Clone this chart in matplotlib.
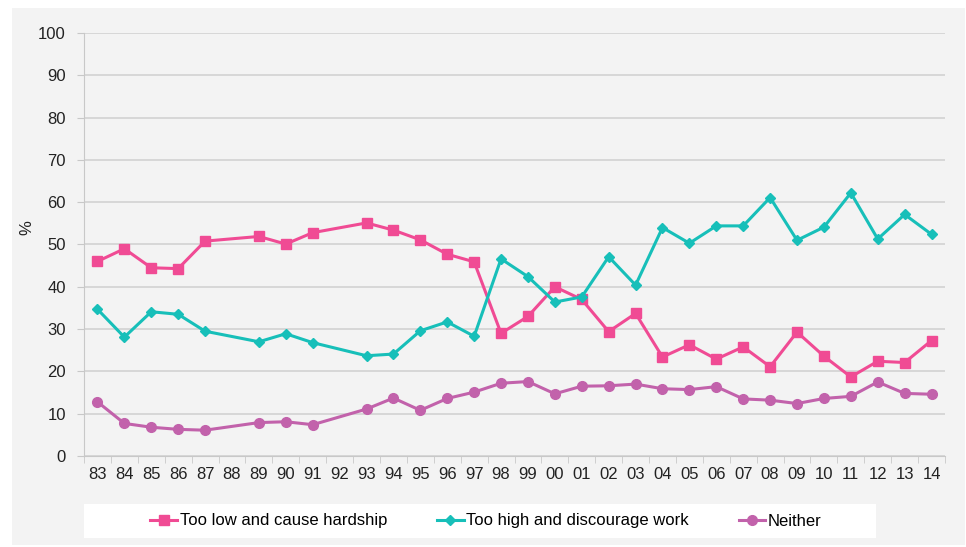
import numpy as np
import matplotlib.pyplot as plt
from matplotlib.patches import Rectangle

plt.rcParams['font.family'] = ['Liberation Sans', 'DejaVu Sans']

years = ['83', '84', '85', '86', '87', '88', '89', '90', '91', '92', '93', '94', '95', '96', '97',
         '98', '99', '00', '01', '02', '03', '04', '05', '06', '07', '08', '09', '10', '11', '12',
         '13', '14']

too_low = [46.0, 49.0, 44.5, 44.3, 50.8, None, 51.9, 50.1, 52.8, None, 55.1, 53.4, 51.1, 47.7, 45.9,
           29.0, 33.0, 40.0, 37.0, 29.4, 33.7, 23.4, 26.3, 22.9, 25.8, 21.1, 29.3, 23.6, 18.7, 22.4,
           22.1, 27.3]
too_high = [34.7, 28.1, 34.1, 33.5, 29.5, None, 27.0, 28.9, 26.8, None, 23.7, 24.1, 29.6, 31.7, 28.3,
            46.6, 42.4, 36.4, 37.6, 47.1, 40.4, 54.0, 50.3, 54.4, 54.4, 61.1, 51.0, 54.1, 62.2, 51.3,
            57.1, 52.4]
neither = [12.8, 7.7, 6.8, 6.3, 6.1, None, 7.9, 8.1, 7.4, None, 11.1, 13.7, 10.8, 13.6, 15.1,
           17.2, 17.6, 14.7, 16.5, 16.6, 17.0, 15.9, 15.7, 16.4, 13.5, 13.2, 12.4, 13.6, 14.1, 17.5,
           14.8, 14.6]

series = [
    ('Too low and cause hardship', too_low, '#f04b94', 's', 7),
    ('Too high and discourage work', too_high, '#17bfb9', 'D', 5.5),
    ('Neither', neither, '#c262ab', 'o', 7),
]

panel = '#f3f3f3'
fig = plt.figure(figsize=(9.66, 5.47), dpi=100)
fig.set_facecolor('white')
fig.patches.append(Rectangle((12 / 966, 0.004), (965 - 12) / 966, 1 - 8 / 547 - 0.004,
                             transform=fig.transFigure, facecolor=panel, edgecolor='none', zorder=-2))
fig.patches.append(Rectangle((84 / 966, 1 - 538 / 547), (876 - 84) / 966, 34 / 547,
                             transform=fig.transFigure, facecolor='white', edgecolor='none', zorder=-1))

ax = fig.add_axes([84 / 966, 1 - 456 / 547, (945 - 84) / 966, (456 - 33) / 547])
ax.set_facecolor(panel)

x = np.arange(len(years))
for label, vals, color, marker, ms in series:
    v = np.array([np.nan if a is None else a for a in vals])
    ok = ~np.isnan(v)
    ax.plot(x[ok], v[ok], color=color, marker=marker, markersize=ms, linewidth=2.2,
            label=label, zorder=3)

ax.set_xlim(-0.5, len(years) - 0.5)
ax.set_ylim(0, 100)
ax.set_yticks(range(0, 101, 10))
ax.set_xticks(x)
ax.set_xticklabels(years)
ax.set_xticks(np.arange(-0.5, len(years), 1), minor=True)
ax.tick_params(axis='x', which='major', length=0, pad=8, labelsize=12, labelcolor='#222222')
ax.tick_params(axis='x', which='minor', length=5, color='#c8c8c8')
ax.tick_params(axis='y', length=5, color='#c8c8c8', labelsize=12, labelcolor='#222222', pad=8)
ax.grid(axis='y', color='#d4d4d4', linewidth=1.3)
ax.set_axisbelow(True)
for s in ['top', 'right']:
    ax.spines[s].set_visible(False)
ax.spines['left'].set_color('#c8c8c8')
ax.spines['bottom'].set_color('#c8c8c8')
fig.text(27 / 966, 1 - 228 / 547, '%', rotation=90, fontsize=12, color='#222222',
         ha='center', va='center')

fig.legend(loc='center', bbox_to_anchor=(486 / 966, 1 - 521 / 547), ncol=3, frameon=False,
           fontsize=12, handlelength=1.6, handletextpad=0.15, columnspacing=3.0,
           markerscale=1.0)

fig.savefig('out.png', dpi=100)
